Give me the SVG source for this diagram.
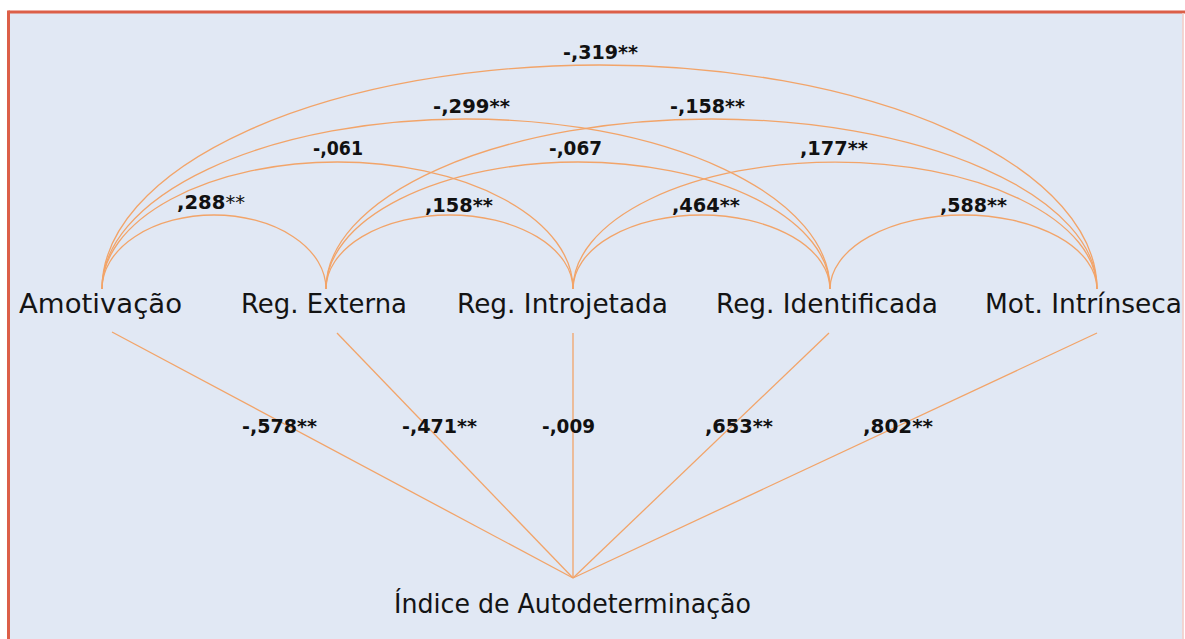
<svg xmlns="http://www.w3.org/2000/svg" width="1185" height="639" viewBox="0 0 1185 639">
<style>
.arc{fill:none;stroke:#f2a469;stroke-width:1.3}
.node{font-family:"DejaVu Sans","Liberation Sans",sans-serif;font-size:26.5px;fill:#141414}
.lbl{font-family:"DejaVu Sans","Liberation Sans",sans-serif;font-size:19px;font-weight:bold;fill:#111}
</style>
<rect x="0" y="0" width="1185" height="639" fill="#ffffff"/>
<rect x="8.5" y="12" width="1175" height="640" fill="#e1e8f4"/>
<line x1="8.5" y1="12" x2="1185" y2="12" stroke="#dc5f48" stroke-width="3"/>
<line x1="8.5" y1="10.5" x2="8.5" y2="639" stroke="#dc5f48" stroke-width="3"/>
<line x1="1183" y1="13" x2="1183" y2="639" stroke="#f6cdc6" stroke-width="1.5"/>
<g id="connectors">
<path class="arc" d="M102 289 A112 74 0 0 1 326 289"/>
<path class="arc" d="M326 289 A123.5 74 0 0 1 573 289"/>
<path class="arc" d="M573 289 A128.5 74 0 0 1 830 289"/>
<path class="arc" d="M830 289 A133.5 74 0 0 1 1097 289"/>
<path class="arc" d="M102 289 A235.5 127 0 0 1 573 289"/>
<path class="arc" d="M326 289 A252 127 0 0 1 830 289"/>
<path class="arc" d="M573 289 A262 127 0 0 1 1097 289"/>
<path class="arc" d="M102 289 A364 170 0 0 1 830 289"/>
<path class="arc" d="M326 289 A385.5 170 0 0 1 1097 289"/>
<path class="arc" d="M102 289 A497.5 224 0 0 1 1097 289"/>
<line class="arc" x1="112" y1="332" x2="573" y2="578"/>
<line class="arc" x1="337" y1="333" x2="573" y2="578"/>
<line class="arc" x1="573" y1="333" x2="573" y2="578"/>
<line class="arc" x1="829" y1="333" x2="573" y2="578"/>
<line class="arc" x1="1097" y1="333" x2="573" y2="578"/>
</g>
<g id="labels">
<text class="lbl" x="563" y="59" textLength="75" lengthAdjust="spacingAndGlyphs">-,319**</text>
<text class="lbl" x="433" y="113" textLength="77" lengthAdjust="spacingAndGlyphs">-,299**</text>
<text class="lbl" x="670" y="113" textLength="75" lengthAdjust="spacingAndGlyphs">-,158**</text>
<text class="lbl" x="313" y="155" textLength="50" lengthAdjust="spacingAndGlyphs">-,061</text>
<text class="lbl" x="549" y="155" textLength="53" lengthAdjust="spacingAndGlyphs">-,067</text>
<text class="lbl" x="800" y="155" textLength="68" lengthAdjust="spacingAndGlyphs">,177**</text>
<text class="lbl" x="177" y="209" textLength="68" lengthAdjust="spacingAndGlyphs">,288<tspan font-weight="normal">**</tspan></text>
<text class="lbl" x="425" y="212" textLength="68" lengthAdjust="spacingAndGlyphs">,158**</text>
<text class="lbl" x="672" y="212" textLength="68" lengthAdjust="spacingAndGlyphs">,464**</text>
<text class="lbl" x="940" y="212" textLength="67" lengthAdjust="spacingAndGlyphs">,588**</text>
<text class="lbl" x="242" y="433" textLength="75" lengthAdjust="spacingAndGlyphs">-,578**</text>
<text class="lbl" x="402" y="433" textLength="75" lengthAdjust="spacingAndGlyphs">-,471**</text>
<text class="lbl" x="542" y="433" textLength="53" lengthAdjust="spacingAndGlyphs">-,009</text>
<text class="lbl" x="705" y="433" textLength="68" lengthAdjust="spacingAndGlyphs">,653**</text>
<text class="lbl" x="863" y="433" textLength="70" lengthAdjust="spacingAndGlyphs">,802**</text>
</g>
<g id="node-amotivacao"><text class="node" x="19" y="313" textLength="163" lengthAdjust="spacingAndGlyphs">Amotivação</text></g>
<g id="node-reg-externa"><text class="node" x="241" y="313" textLength="166" lengthAdjust="spacingAndGlyphs">Reg. Externa</text></g>
<g id="node-reg-introjetada"><text class="node" x="457" y="313" textLength="211" lengthAdjust="spacingAndGlyphs">Reg. Introjetada</text></g>
<g id="node-reg-identificada"><text class="node" x="716" y="313" textLength="222" lengthAdjust="spacingAndGlyphs">Reg. Identificada</text></g>
<g id="node-mot-intrinseca"><text class="node" x="985" y="313" textLength="197" lengthAdjust="spacingAndGlyphs">Mot. Intrínseca</text></g>
<g id="node-indice"><text class="node" x="394" y="613" font-size="25" textLength="357" lengthAdjust="spacingAndGlyphs">Índice de Autodeterminação</text></g>
</svg>
